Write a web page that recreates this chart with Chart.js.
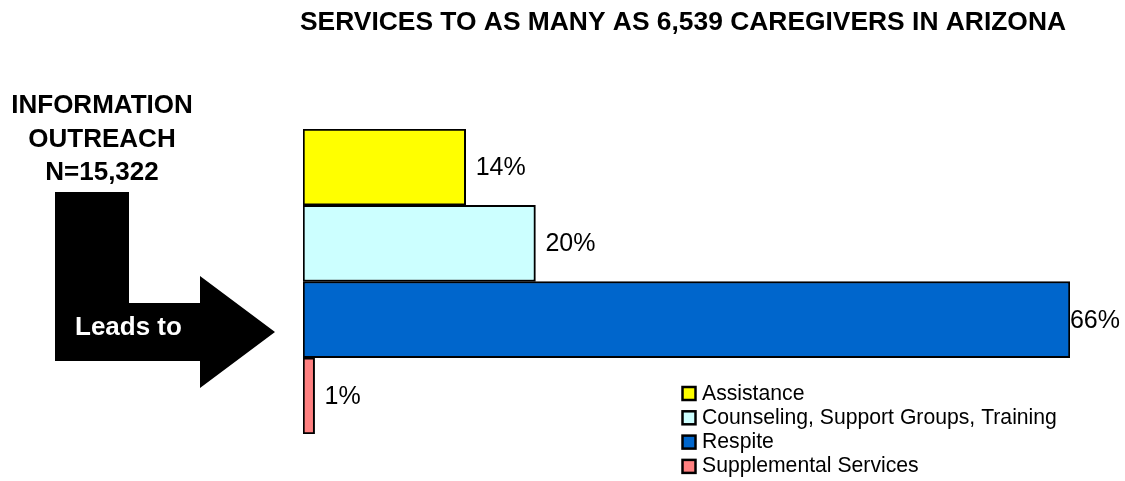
<!DOCTYPE html>
<html>
<head>
<meta charset="utf-8">
<script src="https://cdn.jsdelivr.net/npm/chart.js@4/dist/chart.umd.min.js"></script>
<style>
    html, body { margin: 0; padding: 0; background: #fff; }
    #wrap { width: 1125px; height: 481px; }
</style>
</head>
<body>
<div id="wrap"><canvas id="chart" width="1125" height="481"></canvas></div>
<script>
const FONT = "'Liberation Sans', Arial, sans-serif";

// one category, one dataset per service so the bars stack as bands
const categories = [""];
const seriesNames = [
    "Assistance",
    "Counseling, Support Groups, Training",
    "Respite",
    "Supplemental Services",
];
const seriesValues = [14, 20, 66, 1];
const seriesColors = ["#ffff00", "#ccffff", "#0066cc", "#ff8080"];

const titleText = "SERVICES TO AS MANY AS 6,539 CAREGIVERS IN ARIZONA";
const sideLines = ["INFORMATION", "OUTREACH", "N=15,322"];
const arrowText = "Leads to";

const datasets = seriesNames.map((name, i) => ({
    label: name,
    data: [seriesValues[i]],
    backgroundColor: seriesColors[i],
    borderColor: "#000",
    borderWidth: 2,
    borderSkipped: false,
}));

const decorPlugin = {
    id: "decor",
    beforeDraw(chart) {
        const ctx = chart.ctx;
        ctx.save();
        ctx.fillStyle = "#fff";
        ctx.fillRect(0, 0, chart.width, chart.height);

        ctx.fillStyle = "#000";
        ctx.textBaseline = "alphabetic";
        ctx.textAlign = "center";
        ctx.font = `bold 26.4px ${FONT}`;
        ctx.fillText(titleText, 683, 30);

        ctx.font = `bold 26px ${FONT}`;
        sideLines.forEach((line, i) => {
            ctx.fillText(line, 102, 113 + i * 33.5);
        });

        // bent arrow on the left
        ctx.beginPath();
        ctx.moveTo(55, 192);
        ctx.lineTo(129, 192);
        ctx.lineTo(129, 303);
        ctx.lineTo(200, 303);
        ctx.lineTo(200, 276);
        ctx.lineTo(275, 332);
        ctx.lineTo(200, 388);
        ctx.lineTo(200, 361);
        ctx.lineTo(55, 361);
        ctx.closePath();
        ctx.fill();

        ctx.fillStyle = "#fff";
        ctx.textAlign = "left";
        ctx.fillText(arrowText, 75, 335);
        ctx.restore();
    },
    afterDatasetsDraw(chart) {
        const ctx = chart.ctx;
        ctx.save();
        ctx.fillStyle = "#000";
        ctx.font = `25px ${FONT}`;
        ctx.textAlign = "left";
        ctx.textBaseline = "middle";
        chart.data.datasets.forEach((ds, i) => {
            const bar = chart.getDatasetMeta(i).data[0];
            const text = ds.data[0] + "%";
            const w = ctx.measureText(text).width;
            const x = Math.min(bar.x + 10, chart.width - w - 5);
            ctx.fillText(text, x, bar.y + 1);
        });

        // legend
        ctx.font = `21.2px ${FONT}`;
        ctx.textBaseline = "alphabetic";
        chart.data.datasets.forEach((ds, i) => {
            const base = 399.5 + i * 24.3;
            ctx.fillStyle = ds.backgroundColor;
            ctx.fillRect(682.5, base - 12.5, 13, 13);
            ctx.strokeStyle = "#000";
            ctx.lineWidth = 2.5;
            ctx.strokeRect(682.5, base - 12.5, 13, 13);
            ctx.fillStyle = "#000";
            ctx.fillText(ds.label, 702, base);
        });
        ctx.restore();
    },
};

new Chart(document.getElementById("chart"), {
    type: "bar",
    data: { labels: categories, datasets },
    options: {
        indexAxis: "y",
        responsive: false,
        animation: false,
        devicePixelRatio: 1,
        layout: { padding: { left: 303, right: 55, top: 129, bottom: 47 } },
        datasets: {
            bar: { categoryPercentage: 1, barPercentage: 1 },
        },
        scales: {
            x: { display: false, min: 0, max: 66 },
            y: { display: false },
        },
        plugins: {
            legend: { display: false },
            tooltip: { enabled: false },
            title: { display: false },
        },
    },
    plugins: [decorPlugin],
});
</script>
</body>
</html>
